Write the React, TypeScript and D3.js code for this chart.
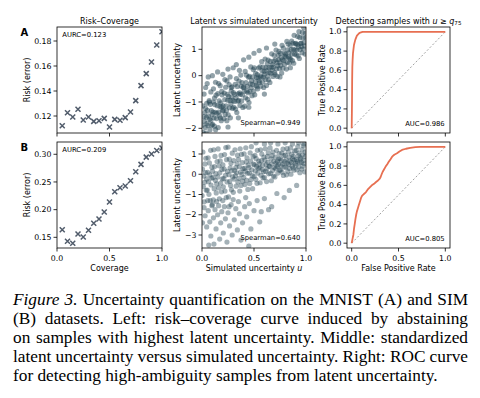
import { useMemo } from 'react';
import * as d3 from 'd3';

// coverage levels used for the risk-coverage curves
const coverage = [0.05, 0.1, 0.15, 0.2, 0.25, 0.3, 0.35, 0.4, 0.45, 0.5, 0.55, 0.6, 0.65, 0.7, 0.75, 0.8, 0.85, 0.9, 0.95, 1.0];
const riskMnist = [0.1122, 0.1226, 0.1192, 0.1254, 0.1168, 0.1192, 0.1157, 0.1162, 0.1181, 0.1112, 0.1173, 0.1166, 0.1187, 0.1232, 0.1323, 0.1443, 0.1539, 0.1632, 0.1768, 0.1874];
const riskSim = [0.1637, 0.1428, 0.1392, 0.156, 0.1505, 0.1626, 0.1753, 0.183, 0.1957, 0.2137, 0.2323, 0.2395, 0.2426, 0.2522, 0.2684, 0.2818, 0.2949, 0.3004, 0.307, 0.3112];

// [simulated u, standardized latent uncertainty]
const latentMnist: [number, number][] = [
  [0.002, -1.88], [0.006, -1.15], [0.011, -2.15], [0.015, -1.56], [0.019, -2.41], [0.023, -1.73], [0.027, -1.4], [0.031, -1.97], [0.035, -1.24], [0.039, -2.18], [0.043, -1.58], [0.047, -1.82],
  [0.052, -1.32], [0.056, -1.89], [0.061, -1.53], [0.065, -2.26], [0.069, -0.95], [0.073, -1.66], [0.077, -2.05], [0.081, -1.09], [0.085, -1.7], [0.089, -1.33], [0.093, -1.88], [0.097, -1.49],
  [0.102, -1.85], [0.106, -1.38], [0.111, -1.0], [0.115, -1.6], [0.119, -1.92], [0.123, -1.1], [0.127, -1.39], [0.131, -2.05], [0.135, -0.74], [0.139, -1.63], [0.143, -1.43], [0.147, -1.14],
  [0.152, -0.68], [0.156, -1.97], [0.161, -1.38], [0.165, -0.96], [0.169, -1.53], [0.173, -1.17], [0.177, -1.61], [0.181, -1.03], [0.185, -1.71], [0.189, -1.2], [0.193, -0.73], [0.197, -1.34],
  [0.202, -1.15], [0.206, -1.31], [0.211, -1.63], [0.215, -0.66], [0.219, -0.91], [0.223, -1.47], [0.227, -0.44], [0.231, -1.15], [0.235, -1.32], [0.239, -1.71], [0.243, -0.71], [0.247, -0.93],
  [0.252, -1.49], [0.256, -0.79], [0.261, -0.34], [0.265, -1.22], [0.269, -0.94], [0.273, -1.6], [0.277, -1.08], [0.281, -0.59], [0.285, -0.81], [0.289, -0.43], [0.293, -1.24], [0.297, -0.94],
  [0.302, -0.64], [0.306, -1.2], [0.311, -0.98], [0.315, -0.71], [0.319, -0.33], [0.323, -1.27], [0.327, -0.84], [0.331, -0.11], [0.335, -1.4], [0.339, -0.41], [0.343, -0.97], [0.347, -0.69],
  [0.352, -0.94], [0.356, -0.21], [0.361, -0.65], [0.365, -1.13], [0.369, -0.71], [0.373, 0.02], [0.377, -0.4], [0.381, -0.96], [0.385, -0.26], [0.389, -0.73], [0.393, -1.21], [0.397, -0.45],
  [0.402, -0.43], [0.406, -0.59], [0.411, -1.16], [0.415, 0.16], [0.419, -0.84], [0.423, -0.26], [0.427, 0.02], [0.431, -0.59], [0.435, -0.41], [0.439, -0.9], [0.443, -0.65], [0.447, -0.06],
  [0.452, -1.02], [0.456, -0.03], [0.461, -0.6], [0.465, -0.31], [0.469, 0.33], [0.473, -0.46], [0.477, -0.19], [0.481, -0.76], [0.485, -0.34], [0.489, -0.05], [0.493, 0.23], [0.497, -0.59],
  [0.503, 0.3], [0.507, -0.73], [0.512, -0.24], [0.516, 0.09], [0.52, -0.37], [0.524, -0.07], [0.528, -0.42], [0.532, 0.04], [0.536, -0.5], [0.54, -0.08], [0.544, 0.29], [0.548, -0.2],
  [0.553, -0.26], [0.557, 0.33], [0.562, -0.01], [0.566, -0.4], [0.57, -0.06], [0.574, 0.53], [0.578, 0.19], [0.582, -0.25], [0.586, 0.32], [0.59, -0.06], [0.594, -0.45], [0.598, 0.16],
  [0.603, 0.05], [0.607, 0.63], [0.612, -0.15], [0.616, 0.31], [0.62, -0.37], [0.624, 0.19], [0.628, 0.45], [0.632, -0.01], [0.636, 0.59], [0.64, -0.16], [0.644, 0.31], [0.648, 0.12],
  [0.653, -0.26], [0.657, 0.54], [0.662, 0.09], [0.666, 0.32], [0.67, 0.83], [0.674, 0.21], [0.678, 0.42], [0.682, -0.03], [0.686, 0.32], [0.69, 0.55], [0.694, 0.77], [0.698, 0.12],
  [0.703, 0.04], [0.707, 0.6], [0.712, 0.97], [0.716, 0.26], [0.72, 0.49], [0.724, -0.03], [0.728, 0.38], [0.732, 0.78], [0.736, 0.61], [0.74, 0.92], [0.744, 0.27], [0.748, 0.51],
  [0.753, 0.85], [0.757, 0.39], [0.762, 0.69], [0.766, 0.1], [0.77, 1.15], [0.774, 0.6], [0.778, 0.28], [0.782, 1.05], [0.786, 0.57], [0.79, 0.87], [0.794, 0.43], [0.798, 0.74],
  [0.803, 0.82], [0.807, 0.7], [0.812, 0.25], [0.816, 1.3], [0.82, 0.51], [0.824, 0.98], [0.828, 1.2], [0.832, 0.71], [0.836, 0.87], [0.84, 0.48], [0.844, 0.67], [0.848, 1.15],
  [0.853, 0.62], [0.857, 0.99], [0.862, 1.31], [0.866, 0.82], [0.87, 0.57], [0.874, 1.24], [0.878, 1.0], [0.882, 0.47], [0.886, 1.53], [0.89, 0.82], [0.894, 0.98], [0.898, 1.21],
  [0.903, 1.23], [0.907, 0.79], [0.912, 0.97], [0.916, 1.18], [0.92, 1.49], [0.924, 0.75], [0.928, 1.09], [0.932, 1.67], [0.936, 0.65], [0.94, 1.45], [0.944, 0.99], [0.948, 1.22],
  [0.953, 1.24], [0.957, 1.11], [0.962, 0.87], [0.966, 1.64], [0.97, 1.44], [0.974, 1.01], [0.978, 1.82], [0.982, 1.26], [0.986, 1.13], [0.99, 0.82], [0.994, 1.62], [0.998, 1.44],
  // sparse points above the band on the left
  [0.035, -0.45], [0.06, -0.05], [0.085, -0.62], [0.1, 0.0], [0.13, -0.25], [0.15, 0.14], [0.175, -0.38], [0.2, 0.05], [0.22, -0.15], [0.25, 0.25], [0.27, -0.05], [0.3, 0.3],
  [0.33, 0.42], [0.36, 0.2], [0.4, 0.6], [0.45, 0.7], [0.5, 0.85], [0.55, 0.95], [0.12, -0.85], [0.19, -0.6], [0.07, -1.0], [0.28, -0.45], [0.62, 1.05], [0.7, 1.2],
  [0.02, -0.7], [0.045, -1.05], [0.11, -0.5], [0.16, -0.3], [0.24, -0.2], [0.05, -0.3],
  [0.45, -1.2], [0.6, -0.7], [0.75, -0.05], [0.85, 0.3], [0.35, -1.6], [0.25, -1.95],
];

// [simulated u, standardized latent uncertainty]
const latentSim: [number, number][] = [
  [0.001, -1.05], [0.005, 0.26], [0.009, 1.1], [0.013, -0.61], [0.017, -0.09], [0.021, -1.36], [0.025, -0.4], [0.029, 0.51], [0.033, 0.08], [0.037, 0.79], [0.041, -0.79], [0.045, -0.23],
  [0.051, -0.78], [0.055, 0.1], [0.059, 0.81], [0.063, -0.37], [0.067, -0.99], [0.071, 0.56], [0.075, -0.03], [0.079, -1.3], [0.083, 1.18], [0.087, -0.53], [0.091, -0.19], [0.095, 0.35],
  [0.101, 0.15], [0.105, -0.17], [0.109, -1.27], [0.113, 1.21], [0.117, -0.71], [0.121, 0.38], [0.125, 0.88], [0.129, -0.3], [0.133, 0.03], [0.137, -0.92], [0.141, -0.48], [0.145, 0.63],
  [0.151, -0.13], [0.155, 1.25], [0.159, -0.67], [0.163, 0.42], [0.167, -1.21], [0.171, 0.07], [0.175, 0.66], [0.179, -0.44], [0.183, 0.93], [0.187, -0.87], [0.191, 0.24], [0.195, -0.23],
  [0.201, 0.46], [0.205, -0.62], [0.209, -0.22], [0.213, 0.26], [0.217, 0.97], [0.221, -0.83], [0.225, -0.05], [0.229, 1.32], [0.233, -1.15], [0.237, 0.72], [0.241, -0.38], [0.245, 0.14],
  [0.251, 1.34], [0.255, -1.12], [0.259, -0.02], [0.263, 0.75], [0.267, -0.35], [0.271, 0.32], [0.275, -0.55], [0.279, 0.54], [0.283, -0.77], [0.287, 0.18], [0.291, 1.04], [0.295, -0.13],
  [0.301, -0.89], [0.305, 0.68], [0.309, -0.24], [0.313, 0.19], [0.317, 1.21], [0.321, -0.07], [0.325, 0.33], [0.329, -0.59], [0.333, 0.07], [0.337, 0.52], [0.341, 0.94], [0.345, -0.38],
  [0.351, 0.73], [0.355, -0.2], [0.359, 0.37], [0.363, -0.83], [0.367, 1.26], [0.371, 0.11], [0.375, -0.55], [0.379, 0.98], [0.383, -0.01], [0.387, 0.57], [0.391, -0.34], [0.395, 0.28],
  [0.401, -0.15], [0.405, 1.01], [0.409, 0.29], [0.413, -0.51], [0.417, 0.15], [0.421, 1.31], [0.425, 0.61], [0.429, -0.3], [0.433, 0.81], [0.437, 0.05], [0.441, -0.75], [0.445, 0.45],
  [0.451, 0.33], [0.455, 0.06], [0.459, -0.46], [0.463, 1.06], [0.467, 0.65], [0.471, -0.26], [0.475, 1.36], [0.479, 0.22], [0.483, -0.07], [0.487, -0.71], [0.491, 0.87], [0.495, 0.5],
  [0.501, -0.11], [0.505, 0.47], [0.509, 0.93], [0.513, 0.16], [0.517, -0.25], [0.521, 0.77], [0.525, 0.39], [0.529, -0.45], [0.533, 1.18], [0.537, 0.06], [0.541, 0.29], [0.545, 0.65],
  [0.551, 0.51], [0.555, 0.31], [0.559, -0.42], [0.563, 1.21], [0.567, -0.05], [0.571, 0.67], [0.575, 1.0], [0.579, 0.23], [0.583, 0.45], [0.587, -0.18], [0.591, 0.12], [0.595, 0.85],
  [0.601, -0.16], [0.605, 0.7], [0.609, 1.26], [0.613, 0.14], [0.617, 0.48], [0.621, -0.36], [0.625, 0.27], [0.629, 0.88], [0.633, 0.59], [0.637, 1.06], [0.641, 0.02], [0.645, 0.39],
  [0.651, 0.39], [0.655, 1.3], [0.659, 0.04], [0.663, 0.76], [0.667, -0.32], [0.671, 0.52], [0.675, 0.92], [0.679, 0.19], [0.683, 1.1], [0.687, -0.09], [0.691, 0.64], [0.695, 0.33],
  [0.701, -0.13], [0.705, 0.85], [0.709, 0.28], [0.713, 0.55], [0.717, 1.18], [0.721, 0.39], [0.725, 0.64], [0.729, 0.06], [0.733, 0.48], [0.737, 0.76], [0.741, 1.02], [0.745, 0.2],
  [0.751, 0.77], [0.755, 0.21], [0.759, 0.42], [0.763, 0.67], [0.767, 1.05], [0.771, 0.1], [0.775, 0.51], [0.779, 1.24], [0.783, -0.06], [0.787, 0.92], [0.791, 0.35], [0.795, 0.62],
  [0.801, 0.94], [0.805, 0.36], [0.809, 0.71], [0.813, -0.03], [0.817, 1.27], [0.821, 0.55], [0.825, 0.15], [0.829, 1.1], [0.833, 0.48], [0.837, 0.85], [0.841, 0.28], [0.845, 0.66],
  [0.851, 1.3], [0.855, 0.0], [0.859, 0.59], [0.863, 0.99], [0.867, 0.41], [0.871, 0.77], [0.875, 0.31], [0.879, 0.88], [0.883, 0.2], [0.887, 0.7], [0.891, 1.15], [0.895, 0.54],
  [0.901, 0.44], [0.905, 1.17], [0.909, 0.72], [0.913, 0.22], [0.917, 0.64], [0.921, 1.36], [0.925, 0.92], [0.929, 0.36], [0.933, 1.05], [0.937, 0.57], [0.941, 0.08], [0.945, 0.83],
  [0.951, 0.76], [0.955, 0.59], [0.959, 0.26], [0.963, 1.22], [0.967, 0.96], [0.971, 0.4], [0.975, 1.41], [0.979, 0.69], [0.983, 0.52], [0.987, 0.12], [0.991, 1.1], [0.995, 0.88],
  // long lower tail
  [0.02, -1.65], [0.03, -2.05], [0.045, -2.6], [0.06, -1.8], [0.075, -2.35], [0.085, -3.05], [0.095, -1.55], [0.11, -2.15], [0.115, -3.45], [0.125, -1.75], [0.135, -2.7], [0.15, -2.0],
  [0.16, -1.55], [0.17, -3.2], [0.18, -2.4], [0.19, -1.85], [0.205, -2.9], [0.215, -1.6], [0.225, -2.2], [0.24, -3.35], [0.25, -1.9], [0.265, -2.55], [0.28, -1.5], [0.29, -3.0],
  [0.31, -2.25], [0.325, -1.7], [0.34, -2.75], [0.36, -1.95], [0.375, -3.25], [0.39, -2.4], [0.41, -1.6], [0.43, -2.1], [0.455, -1.45], [0.47, -2.7], [0.5, -1.8], [0.53, -1.3],
  [0.555, -2.35], [0.57, -1.85], [0.6, -1.2], [0.64, -1.75], [0.67, -1.6], [0.72, -0.95], [0.79, -1.15], [0.84, -0.8], [0.91, -0.55], [0.005, -2.4], [0.065, -3.5], [0.14, -1.35],
  [0.2, -1.3], [0.3, -1.25], [0.35, -1.35], [0.42, -1.15], [0.055, -1.3], [0.1, -1.5], [0.26, -1.6], [0.45, -3.55],
  // points near the top edge on the right
  [0.52, 1.55], [0.6, 1.5], [0.66, 1.55], [0.73, 1.5], [0.8, 1.55], [0.87, 1.5], [0.93, 1.55], [0.98, 1.5],
];

// [false positive rate, true positive rate]
const rocMnist: [number, number][] = [
  [0, 0], [0.002, 0.15], [0.0035, 0.285], [0.005, 0.5], [0.007, 0.637], [0.01, 0.71], [0.014, 0.778], [0.025, 0.866],
  [0.039, 0.919], [0.056, 0.961], [0.081, 0.986], [0.1, 0.995], [0.116, 1.0], [1, 1],
];
const rocSim: [number, number][] = [
  [0, 0], [0.01, 0.05], [0.018, 0.088], [0.025, 0.15], [0.032, 0.194], [0.04, 0.25], [0.049, 0.3], [0.056, 0.33],
  [0.063, 0.352], [0.075, 0.39], [0.091, 0.44], [0.1, 0.47], [0.112, 0.493], [0.13, 0.51], [0.151, 0.528], [0.17, 0.555],
  [0.196, 0.581], [0.215, 0.6], [0.239, 0.616], [0.26, 0.635], [0.281, 0.651], [0.3, 0.67], [0.309, 0.687], [0.32, 0.715],
  [0.33, 0.739], [0.345, 0.765], [0.361, 0.792], [0.38, 0.82], [0.396, 0.845], [0.415, 0.872], [0.432, 0.898], [0.455, 0.918],
  [0.484, 0.933], [0.51, 0.952], [0.537, 0.968], [0.58, 0.98], [0.625, 0.989], [0.68, 0.996], [0.73, 1.0], [1, 1],
];

const aurcLabels = ['AURC=0.123', 'AURC=0.209'];
const spearmanLabels = ['Spearman=0.949', 'Spearman=0.640'];
const aucLabels = ['AUC=0.986', 'AUC=0.805'];
const rowLetters = ['A', 'B'];

const unitTicks = [0, 0.5, 1];
const rocTicks = [0, 0.2, 0.4, 0.6, 0.8, 1];
const riskTicks = [[0.12, 0.14, 0.16, 0.18], [0.15, 0.2, 0.25, 0.3]];
const latentTicks = [[-2, -1, 0, 1], [-3, -2, -1, 0, 1]];
const riskDomains: [number, number][] = [[0.1064, 0.1912], [0.1307, 0.3222]];
const latentDomains: [number, number][] = [[-2.178, 1.847], [-3.642, 1.593]];

const captionLines = [
  'Figure 3. Uncertainty quantification on the MNIST (A) and SIM',
  '(B) datasets. Left: risk–coverage curve induced by abstaining',
  'on samples with highest latent uncertainty. Middle: standardized',
  'latent uncertainty versus simulated uncertainty. Right: ROC curve',
  'for detecting high-ambiguity samples from latent uncertainty.',
];

const COLS = [[57, 162], [202, 306], [347, 450]];
const ROWS = [[27, 133], [142, 248]];
const SCATTER = '#264653';
const CROSS = '#515c6b';
const ROC = '#e76f51';
const CAPTION_SIZE = 17.3;

const fmt1 = d3.format('.1f');
const fmt2 = d3.format('.2f');
const fmtInt = (v: number) => (v < 0 ? '\u2212' + Math.abs(v) : String(v));

type AxesProps = {
  id: string;
  x: d3.ScaleLinear<number, number>;
  y: d3.ScaleLinear<number, number>;
  xTicks: number[];
  yTicks: number[];
  yFmt: (v: number) => string;
  showX: boolean;
  children?: React.ReactNode;
};

function Axes({ id, x, y, xTicks, yTicks, yFmt, showX, children }: AxesProps) {
  const [x0, x1] = x.range();
  const [yb, yt] = y.range();
  return (
    <g>
      <clipPath id={id}>
        <rect x={x0} y={yt} width={x1 - x0} height={yb - yt} />
      </clipPath>
      <g clipPath={`url(#${id})`}>{children}</g>
      <rect x={x0} y={yt} width={x1 - x0} height={yb - yt} fill="none" stroke="#000" strokeWidth={0.8} />
      {xTicks.map((t) => (
        <g key={'x' + t}>
          <line x1={x(t)} x2={x(t)} y1={yb} y2={yb + 3.5} stroke="#000" strokeWidth={0.8} />
          {showX && (
            <text x={x(t)} y={yb + 12.5} textAnchor="middle">
              {fmt1(t)}
            </text>
          )}
        </g>
      ))}
      {yTicks.map((t) => (
        <g key={'y' + t}>
          <line x1={x0 - 3.5} x2={x0} y1={y(t)} y2={y(t)} stroke="#000" strokeWidth={0.8} />
          <text x={x0 - 5.5} y={y(t)} dy="0.34em" textAnchor="end">
            {yFmt(t)}
          </text>
        </g>
      ))}
    </g>
  );
}

function YLabel({ x, y, text }: { x: number; y: number; text: string }) {
  return (
    <text transform={`translate(${x},${y}) rotate(-90)`} textAnchor="middle" fontSize={8}>
      {text}
    </text>
  );
}

function Caption() {
  const ctx = useMemo(() => document.createElement('canvas').getContext('2d')!, []);
  const measure = (s: string, italic: boolean) => {
    ctx.font = `${italic ? 'italic ' : ''}${CAPTION_SIZE}px "Liberation Serif"`;
    return ctx.measureText(s).width;
  };
  const left = 13;
  const right = 468;
  return (
    <g fontFamily='"Liberation Serif", serif' fontSize={CAPTION_SIZE} fill="#000">
      {captionLines.map((line, li) => {
        const words = line.split(' ');
        const italic = (wi: number) => li === 0 && wi < 2;
        const widths = words.map((w, wi) => measure(w, italic(wi)));
        const total = d3.sum(widths);
        const last = li === captionLines.length - 1;
        const gap = last ? measure(' ', false) : (right - left - total) / (words.length - 1);
        let cx = left;
        return words.map((w, wi) => {
          const px = cx;
          cx += widths[wi] + gap;
          return (
            <text key={li + '-' + wi} x={px} y={305 + li * 19} fontStyle={italic(wi) ? 'italic' : 'normal'}>
              {w}
            </text>
          );
        });
      })}
    </g>
  );
}

export default function App() {
  const panels = [0, 1].map((r) => {
    const [yt, yb] = ROWS[r];
    const xl = d3.scaleLinear().domain([0, 1]).range(COLS[0]);
    const yl = d3.scaleLinear().domain(riskDomains[r]).range([yb, yt]);
    const xm = d3.scaleLinear().domain([0, 1]).range(COLS[1]);
    const ym = d3.scaleLinear().domain(latentDomains[r]).range([yb, yt]);
    const xr = d3.scaleLinear().domain([-0.05, 1.05]).range(COLS[2]);
    const yr = d3.scaleLinear().domain([-0.05, 1.05]).range([yb, yt]);
    const risk = r === 0 ? riskMnist : riskSim;
    const scatter = r === 0 ? latentMnist : latentSim;
    const roc = r === 0 ? rocMnist : rocSim;
    const line = d3
      .line<[number, number]>()
      .x((d) => xr(d[0]))
      .y((d) => yr(d[1]));
    const showX = r === 1;
    const s = 2.5;
    return (
      <g key={r}>
        <text x={20.5} y={yt + 9.3} fontSize={10} fontWeight="bold">
          {rowLetters[r]}
        </text>

        <Axes id={`l${r}`} x={xl} y={yl} xTicks={unitTicks} yTicks={riskTicks[r]} yFmt={fmt2} showX={showX}>
          {coverage.map((c, i) => {
            const cx = xl(c);
            const cy = yl(risk[i]);
            return (
              <path
                key={i}
                d={`M${cx - s},${cy - s}L${cx + s},${cy + s}M${cx - s},${cy + s}L${cx + s},${cy - s}`}
                stroke={CROSS}
                strokeWidth={1.5}
                fill="none"
              />
            );
          })}
        </Axes>
        <text x={COLS[0][0] + 5.3} y={yt + 9.6} fontSize={6.8}>
          {aurcLabels[r]}
        </text>
        <YLabel x={30} y={(yt + yb) / 2} text="Risk (error)" />

        <Axes id={`m${r}`} x={xm} y={ym} xTicks={unitTicks} yTicks={latentTicks[r]} yFmt={fmtInt} showX={showX}>
          {scatter.map((d, i) => (
            <circle key={i} cx={xm(d[0])} cy={ym(d[1])} r={2.6} fill={SCATTER} fillOpacity={r === 0 ? 0.5 : 0.42} />
          ))}
        </Axes>
        <text x={COLS[1][1] - 5.7} y={yb - 7.7} fontSize={6.8} textAnchor="end">
          {spearmanLabels[r]}
        </text>
        <YLabel x={180} y={(yt + yb) / 2} text="Latent uncertainty" />

        <Axes id={`r${r}`} x={xr} y={yr} xTicks={unitTicks} yTicks={rocTicks} yFmt={fmt1} showX={showX}>
          <line x1={xr(0)} y1={yr(0)} x2={xr(1)} y2={yr(1)} stroke="#888" strokeWidth={0.8} strokeDasharray="2,2" />
          <path d={line(roc) ?? ''} fill="none" stroke={ROC} strokeWidth={1.8} strokeLinejoin="round" />
        </Axes>
        <text x={COLS[2][1] - 5.3} y={yb - 7.4} fontSize={6.8} textAnchor="end">
          {aucLabels[r]}
        </text>
        <YLabel x={324.5} y={(yt + yb) / 2} text="True Positive Rate" />
      </g>
    );
  });

  return (
    <svg
      width={480}
      height={398}
      style={{ position: 'absolute', left: 0, top: 0, display: 'block' }}
      fontFamily='"DejaVu Sans", sans-serif'
      fontSize={7.8}
      fill="#000"
    >
      <rect width={480} height={398} fill="#fff" />
      <text x={109.5} y={23.5} textAnchor="middle" fontSize={8}>
        Risk–Coverage
      </text>
      <text x={254} y={23.5} textAnchor="middle" fontSize={8}>
        Latent vs simulated uncertainty
      </text>
      <text x={398.5} y={23.5} textAnchor="middle" fontSize={8}>
        Detecting samples with <tspan fontStyle="italic">u</tspan> ≥ <tspan fontStyle="italic">q</tspan>
        <tspan fontSize={5.6} dy={1.8}>
          75
        </tspan>
      </text>
      {panels}
      <text x={109.5} y={270.5} textAnchor="middle" fontSize={8}>
        Coverage
      </text>
      <text x={254} y={270.5} textAnchor="middle" fontSize={8}>
        Simulated uncertainty <tspan fontStyle="italic">u</tspan>
      </text>
      <text x={398.5} y={270.5} textAnchor="middle" fontSize={8}>
        False Positive Rate
      </text>
      <Caption />
    </svg>
  );
}
